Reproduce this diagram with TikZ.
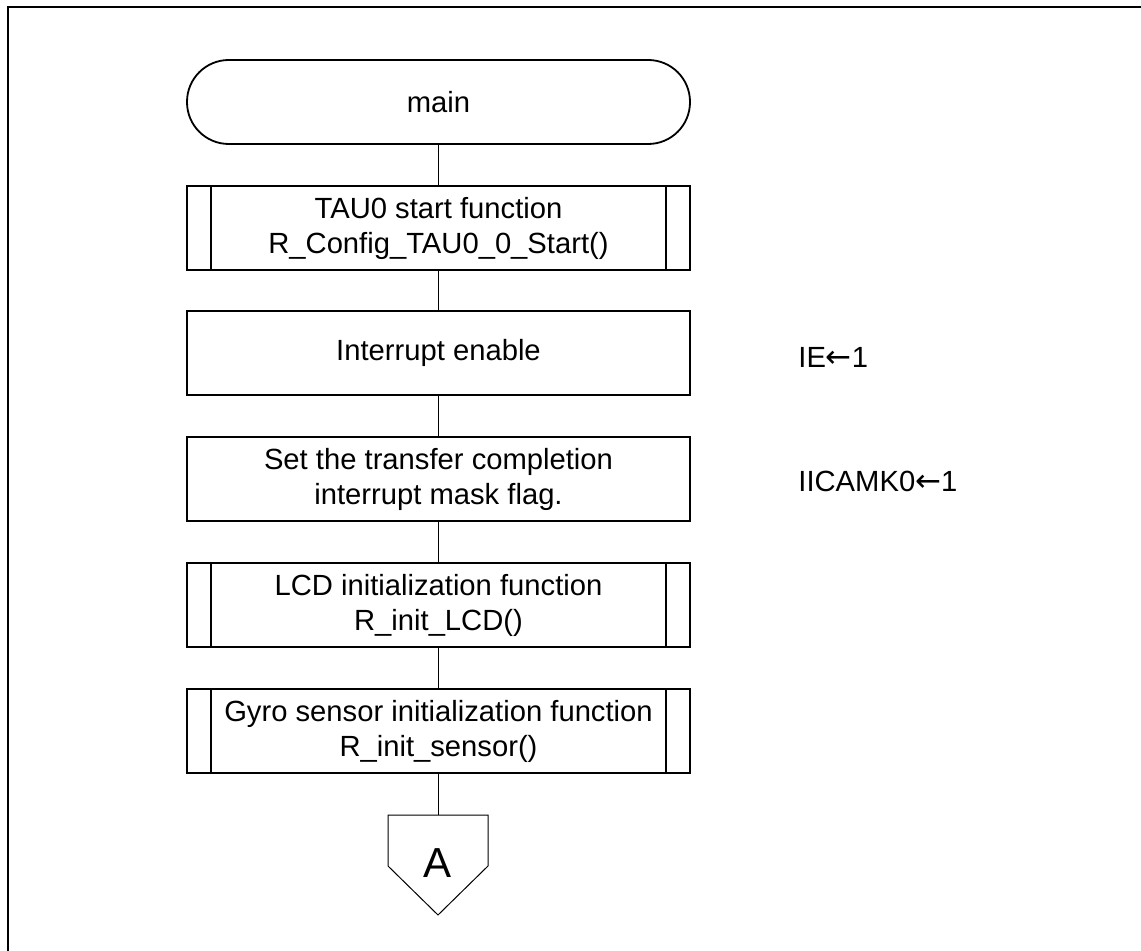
\documentclass[tikz,border=0pt]{standalone}
\usepackage{fontspec}
\setmainfont{Liberation Sans}
\newfontfamily\arrowfont{DejaVu Sans}
\tikzset{
	proc/.style={draw,line width=0.9pt,minimum width=251.5pt,minimum height=42pt,align=center,inner sep=0pt,font=\fontsize{14.6pt}{17.5pt}\selectfont},
	term/.style={proc,rounded corners=20.9pt},
	note/.style={anchor=west,inner sep=0pt,font=\fontsize{14.6pt}{17.5pt}\selectfont},
	flow/.style={line width=0.8pt},
}
\newcommand{\subbars}[1]{\draw[line width=0.9pt]([xshift=12.5pt]#1.north west)--([xshift=12.5pt]#1.south west) ([xshift=-12.5pt]#1.north east)--([xshift=-12.5pt]#1.south east);}
\newcommand{\getsarrow}{{\arrowfont\fontsize{15.5pt}{17.5pt}\selectfont ←}}
\begin{document}
\begin{tikzpicture}[x=0.5pt,y=-0.5pt]
		\useasboundingbox (0,0) rectangle (1141,951);
		\draw[line width=1pt](8,951)--(8,7)--(1141,7);
		\node[term](main) at (438.5,102){main};
		\node[proc](tau) at (438.5,228){TAU0 start function\\R\_Config\_TAU0\_0\_Start()};
		\subbars{tau}
		\node[proc](ie) at (438.5,353){Interrupt enable};
		\node[proc](mask) at (438.5,479){Set the transfer completion\\interrupt mask flag.};
		\node[proc](lcd) at (438.5,605){LCD initialization function\\R\_init\_LCD()};
		\subbars{lcd}
		\node[proc](gyro) at (438.5,731){Gyro sensor initialization function\\R\_init\_sensor()};
		\subbars{gyro}
		\draw[line width=0.5pt](388,815)--(488,815)--(488,866)--(438,915)--(388,866)--cycle;
		\coordinate(contop) at (438.5,815);
		\node[inner sep=0pt,font=\fontsize{21pt}{24pt}\selectfont](conA) at (438,863){A};
		\node[note](ienote) at (798,357){IE\getsarrow 1};
		\node[note](masknote) at (798,481){IICAMK0\getsarrow 1};
		\draw[flow](main)--(tau);
		\draw[flow](tau)--(ie);
		\draw[flow](ie)--(mask);
		\draw[flow](mask)--(lcd);
		\draw[flow](lcd)--(gyro);
		\draw[flow](gyro)--(contop);
	    \end{tikzpicture}
\end{document}
